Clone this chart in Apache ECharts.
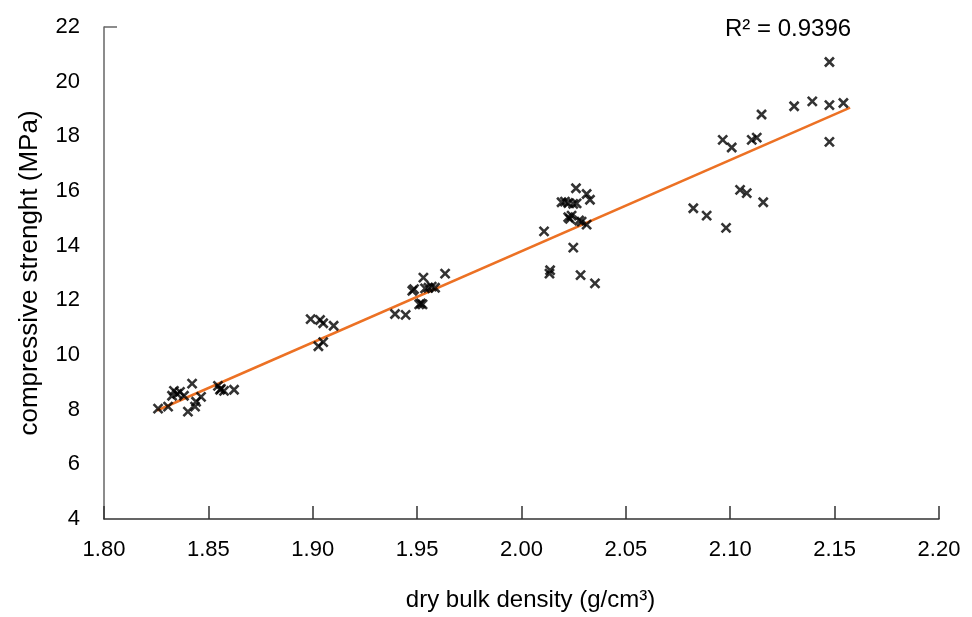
<!DOCTYPE html>
<html>
<head>
<meta charset="utf-8">
<script src="https://cdn.jsdelivr.net/npm/echarts@6/dist/echarts.min.js"></script>
<style>
  html, body { margin: 0; padding: 0; background: #fff; }
  #chart { width: 972px; height: 617px; }
</style>
</head>
<body>
<div id="chart"></div>
<script>
// Dry bulk density (g/cm³) of each specimen
const density = [
  1.8259, 1.8307, 1.8326, 1.8335, 1.8350, 1.8364, 1.8383, 1.8402, 1.8422, 1.8436,
  1.8441, 1.8465, 1.8546, 1.8560, 1.8575, 1.8556, 1.8623,
  1.8990, 1.9035, 1.9050, 1.9100, 1.9027, 1.9050,
  1.9394, 1.9445, 1.9477, 1.9485, 1.9530, 1.9538, 1.9554, 1.9570, 1.9586,
  1.9510, 1.9518, 1.9526, 1.9634,
  2.0261, 2.0312, 2.0328, 2.0192, 2.0208, 2.0224, 2.0248, 2.0264,
  2.0224, 2.0240, 2.0232, 2.0276, 2.0288, 2.0312, 2.0108, 2.0248,
  2.0137, 2.0134, 2.0283, 2.0352,
  2.0964, 2.1007, 2.1103, 2.1127, 2.1047, 2.1079, 2.1158, 2.0823, 2.0887, 2.0980,
  2.1150, 2.1306, 2.1393, 2.1475, 2.1475, 2.1542, 2.1475
];
// Compressive strength (MPa) of each specimen
const strength = [
  8.04, 8.11, 8.51, 8.69, 8.58, 8.65, 8.51, 7.93, 8.95, 8.11,
  8.29, 8.47, 8.87, 8.76, 8.69, 8.73, 8.73,
  11.31, 11.28, 11.16, 11.07, 10.32, 10.47,
  11.50, 11.47, 12.35, 12.41, 12.83, 12.44, 12.46, 12.50, 12.46,
  11.85, 11.89, 11.85, 12.98,
  16.10, 15.89, 15.68, 15.59, 15.61, 15.56, 15.53, 15.55,
  15.04, 15.10, 14.98, 14.92, 14.88, 14.77, 14.52, 13.93,
  13.10, 12.98, 12.92, 12.62,
  17.87, 17.59, 17.87, 17.95, 16.04, 15.92, 15.59, 15.37, 15.10, 14.65,
  18.80, 19.10, 19.28, 20.72, 19.14, 19.22, 17.80
];
// Linear trendline end points
const trendX = [1.8254, 2.1574];
const trendY = [7.97, 19.05];
const r2Label = 'R² = 0.9396';

const xTicks = { min: 1.8, max: 2.2, step: 0.05 };
const yTicks = { min: 4, max: 22, step: 2 };

const font = '"Liberation Sans", Arial, sans-serif';

const chart = echarts.init(document.getElementById('chart'), null, { renderer: 'canvas' });

chart.setOption({
  animation: false,
  backgroundColor: '#ffffff',
  title: {
    text: r2Label,
    left: 720, top: 12,
    textStyle: { fontFamily: font, fontSize: 24, fontWeight: 'normal', color: '#000' }
  },
  grid: { left: 104, right: 33, top: 27, bottom: 95 },
  xAxis: {
    type: 'value',
    min: xTicks.min, max: xTicks.max, interval: xTicks.step,
    name: 'dry bulk density (g/cm³)',
    nameLocation: 'middle', nameGap: 69,
    nameTextStyle: { fontFamily: font, fontSize: 24, color: '#000', padding: [0, 0, 0, 18] },
    axisLine: { lineStyle: { color: '#333', width: 1.5 } },
    axisTick: { inside: true, length: 13, lineStyle: { color: '#333', width: 1.5 } },
    axisLabel: { fontFamily: font, fontSize: 22, color: '#000', margin: 20,
                 formatter: v => v.toFixed(2) },
    splitLine: { show: false }
  },
  yAxis: {
    type: 'value',
    min: yTicks.min, max: yTicks.max, interval: yTicks.step,
    name: 'compressive strenght (MPa)',
    nameLocation: 'middle', nameGap: 61,
    nameTextStyle: { fontFamily: font, fontSize: 26, color: '#000' },
    axisLine: { lineStyle: { color: '#666', width: 1.5 } },
    axisTick: { show: false },
    axisLabel: { fontFamily: font, fontSize: 22, color: '#000', margin: 24 },
    splitLine: { show: false }
  },
  series: [
    {
      type: 'scatter',
      data: density.map((d, i) => [d, strength[i]]),
      symbol: 'path://M0 0L10 10M10 0L0 10',
      symbolSize: 9,
      itemStyle: { color: 'rgba(0,0,0,0)', borderColor: '#000', borderWidth: 2.6 },
      z: 3
    },
    {
      type: 'line',
      data: trendX.map((x, i) => [x, trendY[i]]),
      symbol: 'none',
      lineStyle: { color: '#EC7124', width: 2.5 },
      z: 2
    }
  ]
});

// short inward tick at the top of the value axis
const axisTop = chart.convertToPixel({ gridIndex: 0 }, [xTicks.min, yTicks.max]);
chart.setOption({
  graphic: [{
    type: 'line',
    shape: { x1: axisTop[0], y1: axisTop[1], x2: axisTop[0] + 13, y2: axisTop[1] },
    style: { stroke: '#666', lineWidth: 1.5 }
  }]
});
</script>
</body>
</html>
